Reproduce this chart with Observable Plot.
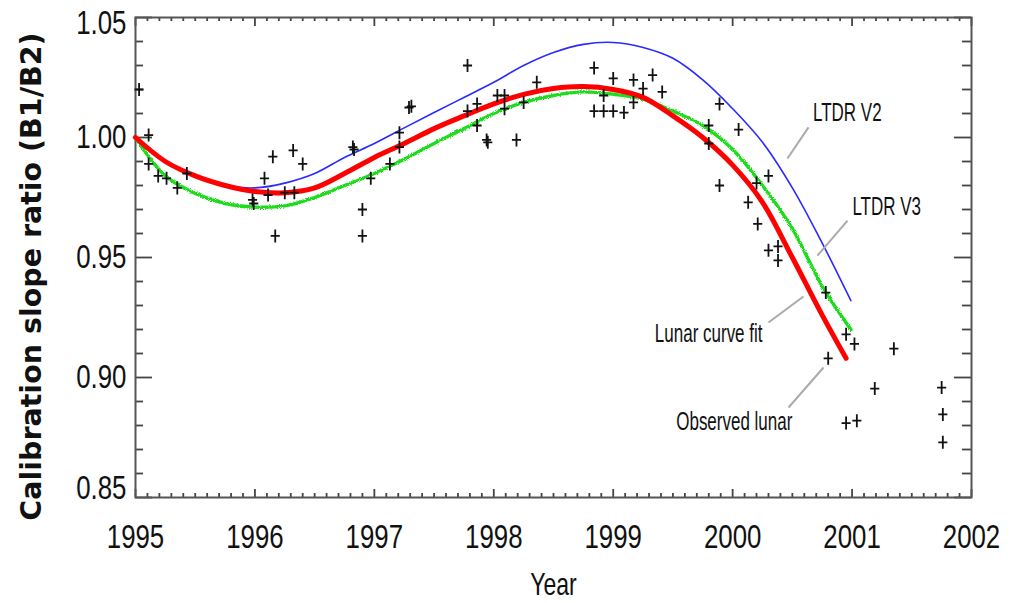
<!DOCTYPE html>
<html><head><meta charset="utf-8">
<script src="https://cdn.jsdelivr.net/npm/d3@7"></script>
<script src="https://cdn.jsdelivr.net/npm/@observablehq/plot@0.6"></script>
<style>
body{margin:0;background:#fff;}
#chart svg{display:block;background:#fff;}
</style>
</head><body><div id="chart"></div>
<svg width="0" height="0" style="position:absolute">
  <filter id="jag" x="-2%" y="-5%" width="104%" height="110%">
    <feTurbulence type="fractalNoise" baseFrequency="1.1" numOctaves="1" seed="4" result="n"/>
    <feDisplacementMap in="SourceGraphic" in2="n" scale="3.6" xChannelSelector="R" yChannelSelector="G"/>
  </filter>
</svg>
<script>
// ---- data ----
const obsYears = [1995.03,1995.11,1995.11,1995.19,1995.26,1995.35,1995.43,1995.98,1995.99,1996.08,1996.11,1996.15,1996.17,1996.25,1996.32,1996.33,1996.40,
  1996.82,1996.83,1996.90,1996.90,1996.97,1997.13,1997.21,1997.21,1997.29,1997.31,1997.78,1997.78,1997.86,1997.86,1997.94,1997.95,
  1998.03,1998.09,1998.09,1998.19,1998.25,1998.36,1998.84,1998.84,1998.92,1998.92,1999.00,1999.00,1999.09,1999.17,1999.17,1999.25,1999.33,1999.41,
  1999.80,1999.80,1999.89,1999.89,2000.05,2000.13,2000.20,2000.21,2000.30,2000.30,2000.38,2000.38,
  2000.78,2000.80,2000.95,2001.02,2000.95,2001.04,2001.19,2001.35,2001.75,2001.76,2001.76];
const obsValues = [1.020,1.001,0.989,0.984,0.983,0.979,0.985,0.974,0.9725,0.983,0.976,0.992,0.959,0.977,0.9946,0.977,0.989,
  0.996,0.995,0.970,0.959,0.983,0.989,1.002,0.996,1.0125,1.013,1.030,1.011,1.014,1.005,0.999,0.998,
  1.0175,1.0175,1.012,0.999,1.0146,1.023,1.029,1.011,1.011,1.0175,1.011,1.0246,1.0104,1.024,1.0146,1.0204,1.026,1.019,
  1.005,0.9975,1.014,0.980,1.0033,0.973,0.981,0.964,0.984,0.953,0.9546,0.9488,
  0.9354,0.908,0.918,0.914,0.881,0.882,0.8954,0.912,0.8958,0.8846,0.873];

const v2Years = [1995,1995.25,1995.5,1995.75,1996,1996.25,1996.5,1996.75,1997,1997.25,1997.5,1997.75,1998,1998.25,1998.5,1998.75,1999,1999.25,1999.5,1999.75,2000,2000.25,2000.5,2000.75,2000.99];
const v2Values = [1.000,0.990,0.984,0.980,0.979,0.981,0.985,0.9917,0.9975,1.004,1.0104,1.0167,1.023,1.030,1.0354,1.0388,1.0396,1.0375,1.033,1.024,1.012,0.998,0.979,0.956,0.932];

const v3Years = [1995,1995.25,1995.5,1995.75,1996,1996.25,1996.5,1996.75,1997,1997.25,1997.5,1997.75,1998,1998.25,1998.5,1998.75,1999,1999.25,1999.5,1999.75,2000,2000.25,2000.5,2000.75,2000.99];
const v3Values = [1.000,0.984,0.9767,0.9725,0.971,0.9715,0.975,0.980,0.985,0.991,0.9975,1.0037,1.010,1.0146,1.0175,1.019,1.018,1.016,1.011,1.005,0.995,0.980,0.962,0.938,0.920];

const fitYears = [1995,1995.25,1995.5,1995.75,1996,1996.25,1996.5,1996.75,1997,1997.25,1997.5,1997.75,1998,1998.25,1998.5,1998.75,1999,1999.25,1999.5,1999.75,2000,2000.25,2000.5,2000.75,2000.95];
const fitValues = [1.000,0.990,0.984,0.980,0.9775,0.977,0.979,0.985,0.9917,0.9975,1.0037,1.009,1.014,1.018,1.0204,1.0212,1.020,1.0167,1.009,1.000,0.9885,0.973,0.950,0.926,0.908];

const xTickLabels = [1995,1996,1997,1998,1999,2000,2001,2002];
const yTickLabels = [0.85,0.90,0.95,1.00,1.05];

// annotation labels and their leader lines (data units)
const annoText  = ["LTDR V2","LTDR V3","Lunar curve fit","Observed lunar"];
const annoX     = [2000.96,2001.29,2000.25,2000.50];
const annoY     = [1.0104,0.97125,0.9183,0.8813];
const leadX1    = [2000.635,2000.962,2000.30,2000.468];
const leadY1    = [1.0042,0.9654,0.9229,0.8875];
const leadX2    = [2000.459,2000.71,2000.593,2000.761];
const leadY2    = [0.99125,0.9508,0.93375,0.90417];

// ---- build ----
const W = 1017, H = 603, mL = 135, mR = 46, mT = 17, mB = 106;
const fw = W - mL - mR, fh = H - mT - mB;
// same face, distinct family strings so each group can be condensed by its own factor
const famTick = "Liberation Sans, sans-serif";
const famYear = "Liberation Sans, Arial, sans-serif";
const famAnno = "Liberation Sans, Helvetica, sans-serif";
const condense = {[famTick]: 0.76, [famYear]: 0.72, [famAnno]: 0.68};

const obs = obsYears.map((t, i) => ({t, v: obsValues[i]}));
const v2 = v2Years.map((t, i) => ({t, v: v2Values[i]}));
const v3 = v3Years.map((t, i) => ({t, v: v3Values[i]}));
const fit = fitYears.map((t, i) => ({t, v: fitValues[i]}));
const annos = annoText.map((s, i) => ({s, x: annoX[i], y: annoY[i], x1: leadX1[i], y1: leadY1[i], x2: leadX2[i], y2: leadY2[i]}));

const yMinor = d3.range(0, 21).filter(i => i % 5 !== 0).map(i => 0.85 + i / 100);
const xMinor = d3.range(0, 71).filter(i => i % 10 !== 0).map(i => 1995 + i / 10);

const plusSymbol = {
  draw(ctx, size) {
    const r = Math.sqrt(size / Math.PI);
    ctx.moveTo(-0.7 * r, 0); ctx.lineTo(0.7 * r, 0);
    ctx.moveTo(0, -r); ctx.lineTo(0, r);
  }
};

const tickStyle = {stroke: "#444", strokeWidth: 1.8};
const yLabelOpts = {tickSize: 0, tickPadding: 9, tickFormat: d3.format(".2f"), fontSize: 34, fontFamily: famTick, fill: "#111", label: null};

const chart = Plot.plot({
  width: W, height: H,
  marginLeft: mL, marginRight: mR, marginTop: mT, marginBottom: mB,
  style: {background: "#fff", color: "#111"},
  x: {domain: [1995, 2002]},
  y: {domain: [0.85, 1.05]},
  marks: [
    // ticks inside the frame
    Plot.tickY(yTickLabels, {y: d => d, insetRight: fw - 17, ...tickStyle}),
    Plot.tickY(yMinor, {y: d => d, insetRight: fw - 8, ...tickStyle}),
    Plot.tickY(yTickLabels, {y: d => d, insetLeft: fw - 17, ...tickStyle}),
    Plot.tickY(yMinor, {y: d => d, insetLeft: fw - 9, ...tickStyle}),
    Plot.tickX(xTickLabels, {x: d => d, insetTop: fh - 8, ...tickStyle}),
    Plot.tickX(xMinor, {x: d => d, insetTop: fh - 4, ...tickStyle}),
    Plot.tickX(xTickLabels, {x: d => d, insetBottom: fh - 9, ...tickStyle}),
    Plot.tickX(xMinor, {x: d => d, insetBottom: fh - 4, ...tickStyle}),
    Plot.frame({stroke: "#555", strokeWidth: 2}),
    Plot.axisX(xTickLabels, {tickSize: 0, tickPadding: 26, tickFormat: d => String(d), fontSize: 34, fontFamily: famTick, fill: "#111", label: null}),
    Plot.axisY(yTickLabels.slice(1, 4), yLabelOpts),
    Plot.axisY(yTickLabels.slice(4), {...yLabelOpts, dy: 6}),
    Plot.axisY(yTickLabels.slice(0, 1), {...yLabelOpts, dy: -9}),
    Plot.text(["Year"], {frameAnchor: "bottom", dy: 97, fontSize: 32, fontFamily: famYear, fill: "#111"}),
    Plot.text(["Calibration slope ratio (B1/B2)"], {frameAnchor: "left", textAnchor: "middle", dx: -104, dy: 19, rotate: -90, fontSize: 28.5, fontWeight: "bold", fontFamily: "DejaVu Sans, sans-serif", fill: "#111"}),
    // curves
    Plot.line(v2, {x: "t", y: "v", stroke: "#2a2aff", strokeWidth: 1.6, curve: "catmull-rom"}),
    Plot.line(v3, {x: "t", y: "v", stroke: "#1fdc1f", strokeWidth: 3.4, curve: "catmull-rom"}),
    Plot.line(fit, {x: "t", y: "v", stroke: "#ff0000", strokeWidth: 5, curve: "catmull-rom"}),
    // observations
    Plot.dot(obs, {x: "t", y: "v", symbol: plusSymbol, r: 6.5, fill: "none", stroke: "#111", strokeWidth: 1.8}),
    // annotations
    Plot.link(annos, {x1: "x1", y1: "y1", x2: "x2", y2: "y2", stroke: "#aaa", strokeWidth: 2}),
    Plot.text(annos.slice(0, 2), {x: "x", y: "y", text: "s", textAnchor: "middle", fontSize: 25, fontFamily: famAnno, fill: "#111"}),
    Plot.text(annos.slice(2), {x: "x", y: "y", text: "s", textAnchor: "end", fontSize: 25, fontFamily: famAnno, fill: "#111"})
  ]
});

// condense the narrow label faces horizontally around their anchors
chart.querySelectorAll("g[font-family]").forEach(g => {
  const s = condense[g.getAttribute("font-family")];
  if (!s) return;
  g.querySelectorAll("text").forEach(t => {
    const tr = t.getAttribute("transform") || "";
    t.setAttribute("transform", `${tr} scale(${s},1)`);
  });
});
// the V3 curve is drawn jagged in the reference
const green = chart.querySelector('g[stroke="#1fdc1f"]');
if (green) green.setAttribute("filter", "url(#jag)");

document.getElementById("chart").appendChild(chart);
</script>
</body></html>
